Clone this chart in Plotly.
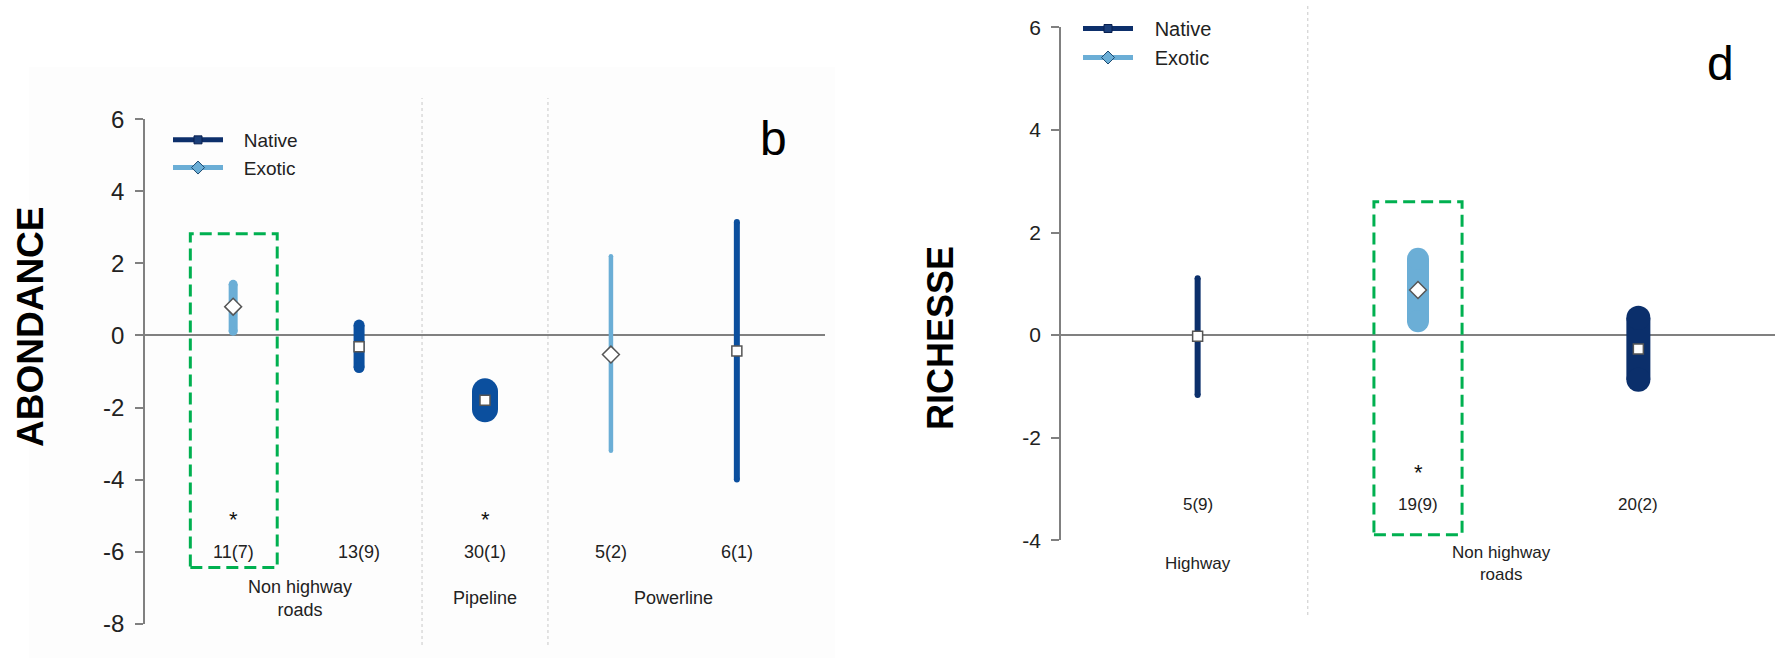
import plotly.graph_objects as go

W, H = 1777, 660
FONT = "Liberation Sans, Arial, Helvetica, sans-serif"

# ---------------- DATA ----------------
# Panel b : ABONDANCE
b_site = ["Non highway<br>roads", "Non highway<br>roads", "Pipeline", "Powerline", "Powerline"]
b_group = ["Exotic", "Native", "Native", "Exotic", "Native"]
b_mean = [0.80, -0.31, -1.80, -0.53, -0.43]
b_low = [0.12, -0.89, -2.05, -3.20, -4.00]
b_high = [1.42, 0.29, -1.55, 2.20, 3.15]
b_n = ["11(7)", "13(9)", "30(1)", "5(2)", "6(1)"]
b_star = ["*", "", "*", "", ""]
b_ticks = [-8, -6, -4, -2, 0, 2, 4, 6]

# Panel d : RICHESSE
d_site = ["Highway", "Non highway<br>roads", "Non highway<br>roads"]
d_group = ["Native", "Exotic", "Native"]
d_mean = [-0.02, 0.88, -0.27]
d_low = [-1.17, 0.27, -0.87]
d_high = [1.11, 1.49, 0.34]
d_n = ["5(9)", "19(9)", "20(2)"]
d_star = ["", "*", ""]
d_ticks = [-4, -2, 0, 2, 4, 6]

# highlighted (green dashed) cells: [x0, x1, y0, y1]
b_box = [0.66, 1.35, -6.44, 2.82]
d_box = [1.80, 2.20, -3.89, 2.60]

# ---------------- STYLE ----------------
b_thick = [9, 11, 26, 4.5, 6]
d_thick = [6, 22, 24]
EXOTIC = "#6baed6"
NATIVE_B = "#0b4f9e"
NATIVE_D = "#0b2f6b"
GREEN = "#00b050"
B_RANGE = [-8, 6]
D_RANGE = [-4, 6]

fig = go.Figure()


def add_panel(xa, ya, groups, mean, low, high, thick, native_col):
    pos = list(range(1, len(mean) + 1))
    for i, p in enumerate(pos):
        col = EXOTIC if groups[i] == "Exotic" else native_col
        fig.add_trace(go.Scatter(
            x=[p, p], y=[low[i], high[i]], mode="lines+markers",
            line=dict(color=col, width=thick[i]),
            marker=dict(symbol="circle", size=thick[i], color=col, line=dict(width=0)),
            xaxis=xa, yaxis=ya, showlegend=False, hoverinfo="skip"))
    for g, sym, sz in [("Native", "square", 10), ("Exotic", "diamond", 13)]:
        xs = [p for p, gg in zip(pos, groups) if gg == g]
        ys = [m for m, gg in zip(mean, groups) if gg == g]
        fig.add_trace(go.Scatter(
            x=xs, y=ys, mode="markers",
            marker=dict(symbol=sym, size=sz, color="white", line=dict(color="#555", width=1.5)),
            xaxis=xa, yaxis=ya, showlegend=False))
    return pos


b_pos = add_panel("x", "y", b_group, b_mean, b_low, b_high, b_thick, NATIVE_B)
d_pos = add_panel("x2", "y2", d_group, d_mean, d_low, d_high, d_thick, NATIVE_D)

# legends
for leg, xa, ya in [("legend", "x", "y"), ("legend2", "x2", "y2")]:
    fig.add_trace(go.Scatter(x=[None], y=[None], mode="lines+markers", name="\u00a0\u00a0\u00a0Native",
                             line=dict(color="#0d2f6b", width=5),
                             marker=dict(symbol="square", size=8, color="#1b3f7a", line=dict(color="#0a2050", width=1)),
                             legend=leg, xaxis=xa, yaxis=ya))
    fig.add_trace(go.Scatter(x=[None], y=[None], mode="lines+markers", name="\u00a0\u00a0\u00a0Exotic",
                             line=dict(color=EXOTIC, width=5),
                             marker=dict(symbol="diamond", size=10, color=EXOTIC, line=dict(color="#1c4a70", width=1)),
                             legend=leg, xaxis=xa, yaxis=ya))

annotations = []
# very faint off-white backdrop of the left panel
shapes = [dict(type="rect", xref="paper", yref="paper", x0=29 / W, x1=835 / W, y0=1 - 658 / H, y1=1 - 67 / H,
               fillcolor="#fdfdfd", line=dict(width=0), layer="below")]


def groups_of(sites, pos):
    out = []
    for s, p in zip(sites, pos):
        if out and out[-1][0] == s:
            out[-1][1].append(p)
        else:
            out.append([s, [p]])
    return out


def frac(v, r):
    return (v - r[0]) / (r[1] - r[0])


def decorate(xr, yr, yrange, sites, pos, n, star, ylab_n, ylab_cat, fs, sep_y, cat_dx):
    ydom = yr + " domain"
    grp = groups_of(sites, pos)
    for k, (s, ps) in enumerate(grp):
        annotations.append(dict(x=sum(ps) / len(ps) + cat_dx[k], y=frac(ylab_cat, yrange), xref=xr, yref=ydom,
                                text=s, showarrow=False, xanchor="center", yanchor="middle",
                                font=dict(size=fs, color="#222", family=FONT)))
        if k > 0:
            xs = (grp[k - 1][1][-1] + ps[0]) / 2
            shapes.append(dict(type="line", xref=xr, yref="paper", x0=xs, x1=xs, y0=sep_y[0], y1=sep_y[1],
                               line=dict(color="#c8c8c8", width=1, dash="dot")))
    for p, t, s in zip(pos, n, star):
        annotations.append(dict(x=p, y=frac(ylab_n, yrange), xref=xr, yref=ydom, text=t, showarrow=False,
                                xanchor="center", yanchor="middle",
                                font=dict(size=fs, color="#222", family=FONT)))
        if s:
            annotations.append(dict(x=p, y=frac(ylab_n, yrange), xref=xr, yref=ydom, text=s, showarrow=False,
                                    xanchor="center", yanchor="middle", yshift=32,
                                    font=dict(size=22, color="#111", family=FONT)))


decorate("x", "y", B_RANGE, b_site, b_pos, b_n, b_star, -6.0, -7.3, 18, [1 - 645 / H, 1 - 98 / H], [0.03, 0, 0])
decorate("x2", "y2", D_RANGE, d_site, d_pos, d_n, d_star, -3.3, -4.45, 17, [1 - 615 / H, 1 - 5 / H], [0, -0.12])

for xr, yr, bx in [("x", "y", b_box), ("x2", "y2", d_box)]:
    shapes.append(dict(type="rect", xref=xr, yref=yr, x0=bx[0], x1=bx[1], y0=bx[2], y1=bx[3],
                       line=dict(color=GREEN, width=3, dash="12px,6px"), fillcolor="rgba(0,0,0,0)"))

annotations += [
    dict(x=30 / W, y=1 - 327 / H, xref="paper", yref="paper", text="<b>ABONDANCE</b>", textangle=-90,
         showarrow=False, xanchor="center", yanchor="middle", font=dict(size=37, color="black", family=FONT)),
    dict(x=940 / W, y=1 - 338 / H, xref="paper", yref="paper", text="<b>RICHESSE</b>", textangle=-90,
         showarrow=False, xanchor="center", yanchor="middle", font=dict(size=36, color="black", family=FONT)),
    dict(x=773 / W, y=1 - 138 / H, xref="paper", yref="paper", text="b", showarrow=False,
         xanchor="center", yanchor="middle", font=dict(size=48, color="black", family=FONT)),
    dict(x=1720 / W, y=1 - 63 / H, xref="paper", yref="paper", text="d", showarrow=False,
         xanchor="center", yanchor="middle", font=dict(size=48, color="black", family=FONT)),
]

yax_common = dict(showgrid=False, zeroline=True, zerolinecolor="#808080", zerolinewidth=1.5,
                  showline=True, linecolor="#808080", linewidth=1.5, ticks="outside", ticklen=8,
                  tickcolor="#808080", tickwidth=1.5, ticklabelstandoff=6, automargin=False)
xax_common = dict(visible=False, showgrid=False, zeroline=False, automargin=False)

fig.update_layout(
    width=W, height=H, margin=dict(l=0, r=0, t=0, b=0, autoexpand=False),
    paper_bgcolor="white", plot_bgcolor="rgba(0,0,0,0)",
    font=dict(family=FONT, color="#222"),
    xaxis=dict(domain=[145 / W, 825 / W], range=[0.3, 5.7], **xax_common),
    yaxis=dict(domain=[1 - 623.7 / H, 1 - 119.3 / H], range=B_RANGE, tickvals=b_ticks,
               ticktext=[str(v) for v in b_ticks],
               tickfont=dict(size=24, color="#222"), **yax_common),
    xaxis2=dict(domain=[1061 / W, 1775 / W], range=[0.38, 3.62], anchor="y2", **xax_common),
    yaxis2=dict(domain=[1 - 540.3 / H, 1 - 27.3 / H], range=D_RANGE, tickvals=d_ticks, anchor="x2",
                ticktext=[str(v) for v in d_ticks],
                tickfont=dict(size=21, color="#222"), **yax_common),
    legend=dict(x=168 / W, y=1 - 121 / H, xanchor="left", yanchor="top", itemwidth=50,
                font=dict(size=19, color="#222"), bgcolor="rgba(0,0,0,0)", tracegroupgap=0),
    legend2=dict(x=1078 / W, y=1 - 9 / H, xanchor="left", yanchor="top", itemwidth=50,
                 font=dict(size=20, color="#222"), bgcolor="rgba(0,0,0,0)", tracegroupgap=0),
    annotations=annotations, shapes=shapes,
)

fig.write_html("out.html")
